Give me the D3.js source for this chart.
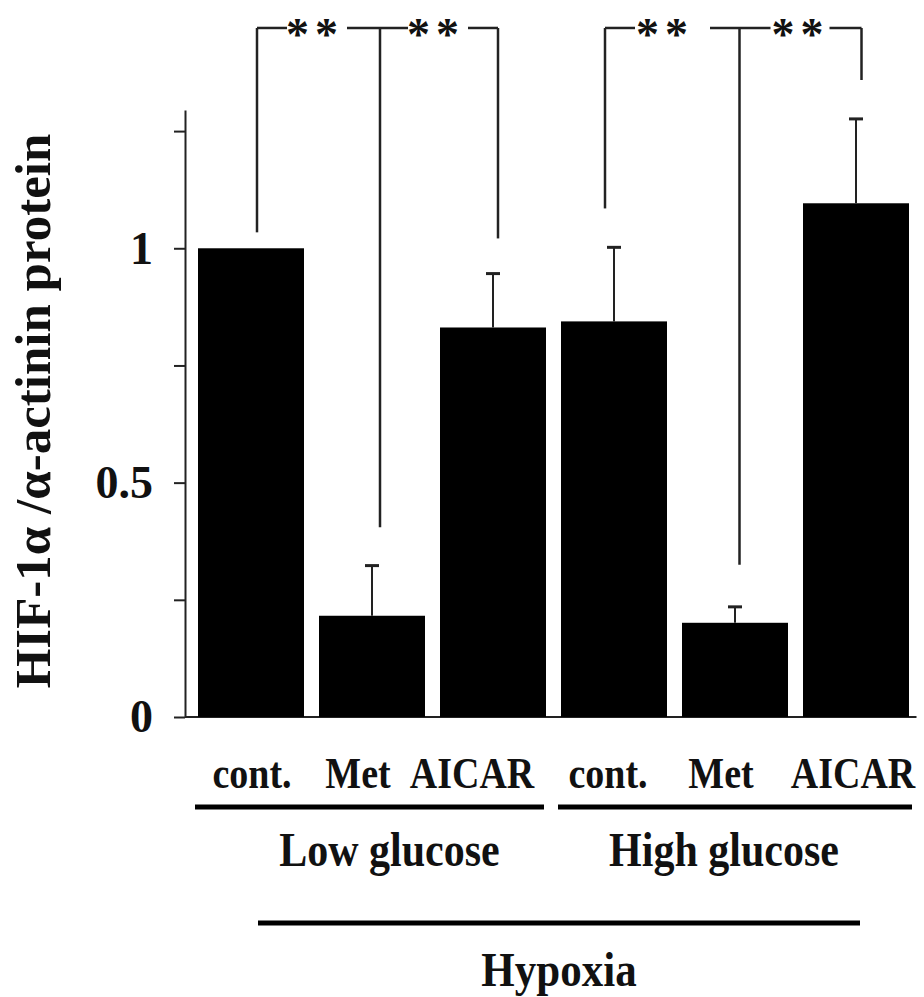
<!DOCTYPE html>
<html>
<head>
<meta charset="utf-8">
<script src="https://cdn.jsdelivr.net/npm/d3@7"></script>
<style>
  body { margin: 0; background: #fff; }
  text { font-family: "Liberation Serif", "Times New Roman", serif; font-weight: bold; fill: #111; }
</style>
</head>
<body>
<div id="chart"></div>
<script>
// data
var categories = ["cont.", "Met", "AICAR", "cont.", "Met", "AICAR"];
var groupOf = ["Low glucose", "Low glucose", "Low glucose", "High glucose", "High glucose", "High glucose"];
var groups = ["Low glucose", "High glucose"];
var means = [1.0, 0.216, 0.831, 0.844, 0.201, 1.096];
var errors = [0, 0.107, 0.115, 0.158, 0.034, 0.180];
var yTicks = [0, 0.25, 0.5, 0.75, 1, 1.25];
var yTickLabels = { 0: "0", 0.5: "0.5", 1: "1" };
// significance brackets: [left bar, centre bar, right bar], leg bottoms (value units)
var brackets = [
  { bars: [0, 1, 2], legs: [1.034, 0.405, 1.021] },
  { bars: [3, 4, 5], legs: [1.085, 0.325, 1.359] }
];
var bracketTop = 1.47;

var width = 924, height = 997;
var svg = d3.select("#chart").append("svg")
    .attr("width", width)
    .attr("height", height);

var idx = d3.range(categories.length);
var x = d3.scaleBand()
    .domain(idx)
    .range([190.5, 916.5])
    .paddingInner(0.124)
    .paddingOuter(0.062);

var y = d3.scaleLinear()
    .domain([0, 1.295])
    .range([717, 110]);

var axisX = 185;
var stroke = "#222";
var stretch = 1.15; // the original figure's lettering is a little tall

// y axis
var yAxis = svg.append("g")
    .attr("transform", "translate(" + axisX + ",0)")
    .call(d3.axisLeft(y)
        .tickValues(yTicks)
        .tickSize(11)
        .tickSizeOuter(0)
        .tickPadding(21)
        .tickFormat(function(d) { return yTickLabels[d] !== undefined ? yTickLabels[d] : ""; }));
yAxis.select(".domain").attr("stroke", stroke).attr("stroke-width", 2);
yAxis.selectAll(".tick line").attr("stroke", stroke).attr("stroke-width", 2);
yAxis.selectAll(".tick text")
    .attr("fill", "#111")
    .style("font-family", "'Liberation Serif', serif")
    .style("font-weight", "bold")
    .style("font-size", "46px");

// baseline
svg.append("line")
    .attr("x1", axisX).attr("x2", x.range()[1])
    .attr("y1", y(0)).attr("y2", y(0))
    .attr("stroke", stroke).attr("stroke-width", 2);

// bars
svg.selectAll(".bar")
    .data(idx)
    .enter().append("rect")
    .attr("class", "bar")
    .attr("x", function(i) { return x(i); })
    .attr("width", x.bandwidth())
    .attr("y", function(i) { return y(means[i]); })
    .attr("height", function(i) { return y(0) - y(means[i]); })
    .attr("fill", "#000");

// error bars (upper only)
var eb = svg.selectAll(".err")
    .data(idx.filter(function(i) { return errors[i] > 0; }))
    .enter().append("g").attr("class", "err");
eb.append("line")
    .attr("x1", function(i) { return x(i) + x.bandwidth() / 2; })
    .attr("x2", function(i) { return x(i) + x.bandwidth() / 2; })
    .attr("y1", function(i) { return y(means[i]); })
    .attr("y2", function(i) { return y(means[i] + errors[i]); })
    .attr("stroke", stroke).attr("stroke-width", 2);
eb.append("line")
    .attr("x1", function(i) { return x(i) + x.bandwidth() / 2 - 7; })
    .attr("x2", function(i) { return x(i) + x.bandwidth() / 2 + 7; })
    .attr("y1", function(i) { return y(means[i] + errors[i]); })
    .attr("y2", function(i) { return y(means[i] + errors[i]); })
    .attr("stroke", stroke).attr("stroke-width", 3);

// significance brackets
var legDx = [[6, 8, 5], [-9, 4.5, 5.5]];
var topY = y(bracketTop);
brackets.forEach(function(b, k) {
    var xs = b.bars.map(function(i, j) { return x(i) + x.bandwidth() / 2 + legDx[k][j]; });
    var g = svg.append("g");
    b.legs.forEach(function(v, j) {
        g.append("line")
            .attr("x1", xs[j]).attr("x2", xs[j])
            .attr("y1", topY).attr("y2", y(v))
            .attr("stroke", stroke).attr("stroke-width", 2.5);
    });
    // horizontal pieces with gaps for the stars
    var segs = k === 0
        ? [[xs[0], xs[0] + 30], [xs[0] + 90, xs[2] - 90], [xs[2] - 30, xs[2]]]
        : [[xs[0], xs[0] + 30], [xs[0] + 105, xs[1] + 31], [xs[2] - 32, xs[2]]];
    segs.forEach(function(s) {
        g.append("line")
            .attr("x1", s[0]).attr("x2", s[1])
            .attr("y1", topY).attr("y2", topY)
            .attr("stroke", stroke).attr("stroke-width", 2.5);
    });
    var starX = k === 0 ? [xs[0] + 58, xs[2] - 62] : [xs[0] + 60, xs[2] - 61];
    starX.forEach(function(sx) {
        g.append("text")
            .attr("x", sx).attr("y", topY + 22)
            .attr("text-anchor", "middle")
            .style("font-size", "46px")
            .style("letter-spacing", "6px")
            .text("**");
    });
});

// helper for slightly tall horizontal text
function tallText(cx, cy, size, label) {
    return svg.append("text")
        .attr("transform", "translate(" + cx + "," + cy + ") scale(1," + stretch + ")")
        .attr("text-anchor", "middle")
        .style("font-size", size + "px")
        .text(label);
}

// category labels (slightly off-centre in the original)
var catDx = [1, -14, -21, -6, -14, -3];
idx.forEach(function(i) {
    tallText(x(i) + x.bandwidth() / 2 + catDx[i], 788, 38, categories[i]);
});

// group lines and labels
var groupEnds = [[-3, -2], [-3, 3]];
var groupDx = [20, -11];
groups.forEach(function(gname, k) {
    var members = idx.filter(function(i) { return groupOf[i] === gname; });
    var x0 = x(members[0]) + groupEnds[k][0],
        x1 = x(members[members.length - 1]) + x.bandwidth() + groupEnds[k][1];
    svg.append("line")
        .attr("x1", x0).attr("x2", x1)
        .attr("y1", 807).attr("y2", 807)
        .attr("stroke", "#000").attr("stroke-width", 5);
    tallText((x0 + x1) / 2 + groupDx[k], 866, 42, gname);
});

// hypoxia line
var hx0 = x(0) + x.bandwidth() / 2 + 7, hx1 = x(5) + x.bandwidth() / 2 + 4;
svg.append("line")
    .attr("x1", hx0).attr("x2", hx1)
    .attr("y1", 923).attr("y2", 923)
    .attr("stroke", "#000").attr("stroke-width", 5);
tallText((hx0 + hx1) / 2, 986, 43, "Hypoxia");

// y label
svg.append("text")
    .attr("transform", "translate(50,411) rotate(-90)")
    .attr("text-anchor", "middle")
    .style("font-size", "51px")
    .text("HIF-1\u03b1 /\u03b1-actinin protein");
</script>
</body>
</html>
